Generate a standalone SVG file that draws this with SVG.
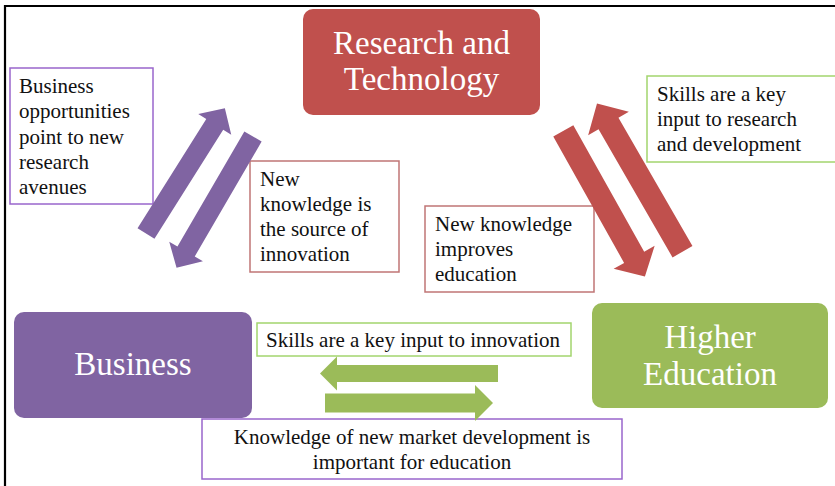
<svg xmlns="http://www.w3.org/2000/svg" width="835" height="486" viewBox="0 0 835 486">
<defs>
<style>
.node text{font-family:"Liberation Serif","Times New Roman",serif;font-size:33px;fill:#fff;text-anchor:middle}
.lbl rect{fill:#fff;stroke-width:1.5}
.lbl text{font-family:"Liberation Serif","Times New Roman",serif;font-size:21px;fill:#111}
.pl rect{stroke:#9966CC}
.rl rect{stroke:#C07575}
.gl rect{stroke:#A3D56E}
.c text{text-anchor:middle}
.pa{fill:#8064A2}
.ra{fill:#C0504D}
.ga{fill:#9BBB59}
</style>
</defs>
<rect x="0" y="0" width="835" height="486" fill="#fff"/>
<path d="M5,486 V6 H835" fill="none" stroke="#000" stroke-width="2.2"/>

<g id="research-technology" class="node">
<rect x="303" y="9" width="237" height="106" rx="10" fill="#C0504D"/>
<text x="421.5" y="54">Research and</text>
<text x="421.5" y="90">Technology</text>
</g>
<g id="business" class="node">
<rect x="14" y="312" width="238" height="106" rx="10" fill="#8064A2"/>
<text x="133" y="375">Business</text>
</g>
<g id="higher-education" class="node">
<rect x="592" y="303" width="236" height="105" rx="10" fill="#9BBB59"/>
<text x="710" y="348">Higher</text>
<text x="710" y="385">Education</text>
</g>

<g id="label-business-opportunities" class="lbl pl">
<rect x="10" y="68" width="143" height="136"/>
<text x="19" y="93">Business</text>
<text x="19" y="118">opportunities</text>
<text x="19" y="143.5">point to new</text>
<text x="19" y="168.5">research</text>
<text x="19" y="193.5">avenues</text>
</g>
<g id="label-new-knowledge-innovation" class="lbl rl">
<rect x="250" y="161" width="149" height="111"/>
<text x="260" y="186">New</text>
<text x="260" y="211">knowledge is</text>
<text x="260" y="236">the source of</text>
<text x="260" y="261">innovation</text>
</g>
<g id="label-skills-research" class="lbl gl">
<rect x="647" y="76" width="192" height="86"/>
<text x="657" y="101">Skills are a key</text>
<text x="657" y="126">input to research</text>
<text x="657" y="151">and development</text>
</g>
<g id="label-new-knowledge-education" class="lbl rl">
<rect x="425" y="206" width="169" height="86"/>
<text x="435" y="231">New knowledge</text>
<text x="435" y="256">improves</text>
<text x="435" y="281">education</text>
</g>
<g id="label-skills-innovation" class="lbl gl c">
<rect x="257" y="323" width="314" height="33"/>
<text x="413" y="347">Skills are a key input to innovation</text>
</g>
<g id="label-market-knowledge" class="lbl pl c">
<rect x="202" y="419" width="420" height="60"/>
<text x="412" y="444">Knowledge of new market development is</text>
<text x="412" y="469">important for education</text>
</g>

<g id="connectors">
<polygon class="pa" transform="translate(146,233.5) rotate(-57.8)" points="0,-10 129,-10 129,-19.5 148,0 129,19.5 129,10 0,10"/>
<polygon class="pa" transform="translate(253,136.5) rotate(120.2)" points="0,-10 133,-10 133,-19.5 152,0 133,19.5 133,10 0,10"/>
<polygon class="ra" transform="translate(682.5,251.7) rotate(-120)" points="0,-11.5 148,-11.5 148,-23.5 171,0 148,23.5 148,11.5 0,11.5"/>
<polygon class="ra" transform="translate(563.3,130.8) rotate(60.75)" points="0,-11.5 145,-11.5 145,-23.5 167,0 145,23.5 145,11.5 0,11.5"/>
<polygon class="ga" points="498,365 337,365 337,356.5 320,373.5 337,390.5 337,382 498,382"/>
<polygon class="ga" points="325,393.5 475,393.5 475,385 493,403 475,421 475,412.5 325,412.5"/>
</g>
</svg>
